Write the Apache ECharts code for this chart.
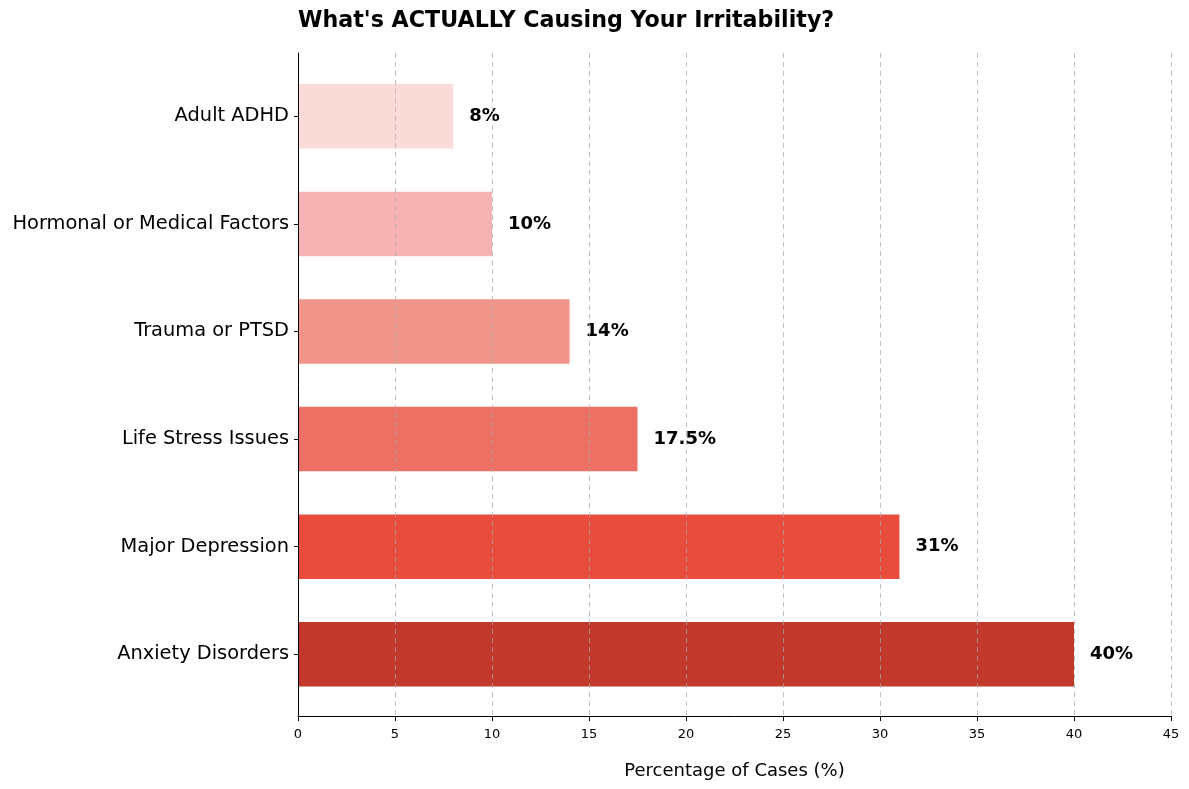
<!DOCTYPE html>
<html>
<head>
<meta charset="utf-8">
<script src="https://cdn.jsdelivr.net/npm/echarts@6/dist/echarts.min.js"></script>
<style>
html,body{margin:0;padding:0;background:#fff;}
#chart{width:1189px;height:789px;}
</style>
</head>
<body>
<div id="chart"></div>
<script>
const categories = ["Anxiety Disorders", "Major Depression", "Life Stress Issues", "Trauma or PTSD", "Hormonal or Medical Factors", "Adult ADHD"];
const values = [40, 31, 17.5, 14, 10, 8];
const barColors = ["#c0392b", "#e74c3c", "#ec7063", "#f1948a", "#f6b3b3", "#fadbd8"];
const xTicks = [0, 5, 10, 15, 20, 25, 30, 35, 40, 45];

const FONT = 'DejaVu Sans';
const chart = echarts.init(document.getElementById('chart'));
chart.setOption({
  animation: false,
  title: {
    text: "What's ACTUALLY Causing Your Irritability?",
    left: 293, top: 5,
    textStyle: {fontFamily: FONT, fontSize: 22.2, fontWeight: 'bold', color: '#000'}
  },
  grid: [
    {left: 298, right: 18, top: 53, bottom: 73, outerBoundsMode: 'none', containLabel: false},
    {left: 298, right: 18, top: 62.5, bottom: 81, outerBoundsMode: 'none', containLabel: false}
  ],
  xAxis: [
    {
      gridIndex: 0, type: 'value', min: xTicks[0], max: xTicks[xTicks.length - 1], interval: 5,
      z: 10,
      name: 'Percentage of Cases (%)', nameLocation: 'middle', nameGap: 46,
      nameTextStyle: {fontFamily: FONT, fontSize: 18, color: '#000'},
      axisLine: {show: true, lineStyle: {color: '#000', width: 1}},
      axisTick: {show: true, length: 5, lineStyle: {color: '#000'}},
      axisLabel: {fontFamily: FONT, fontSize: 13, color: '#000', margin: 12},
      splitLine: {show: true, showMinLine: false, lineStyle: {type: [5, 4], color: 'rgba(170,170,170,0.7)', width: 1}}
    },
    {
      gridIndex: 1, type: 'value', min: xTicks[0], max: xTicks[xTicks.length - 1], interval: 5,
      show: false
    }
  ],
  yAxis: [
    {
      gridIndex: 0, type: 'value', min: 0, max: 1,
      z: 11,
      axisLine: {show: true, lineStyle: {color: '#000', width: 1}},
      axisTick: {show: false}, axisLabel: {show: false}, splitLine: {show: false}
    },
    {
      gridIndex: 1, type: 'category', data: categories,
      axisLine: {show: false},
      axisTick: {show: true, alignWithLabel: true, length: 4, lineStyle: {color: '#000'}},
      axisLabel: {fontFamily: FONT, fontSize: 19.4, color: '#000', margin: 9},
      splitLine: {show: false}
    }
  ],
  series: [{
    type: 'bar',
    xAxisIndex: 1, yAxisIndex: 1,
    data: values.map((v, i) => ({value: v, itemStyle: {color: barColors[i]}})),
    barWidth: 64.5,
    label: {
      show: true, position: 'right', distance: 16,
      formatter: p => p.value + '%',
      fontFamily: FONT, fontSize: 18, fontWeight: 'bold', color: '#000'
    }
  }]
});
</script>
</body>
</html>
